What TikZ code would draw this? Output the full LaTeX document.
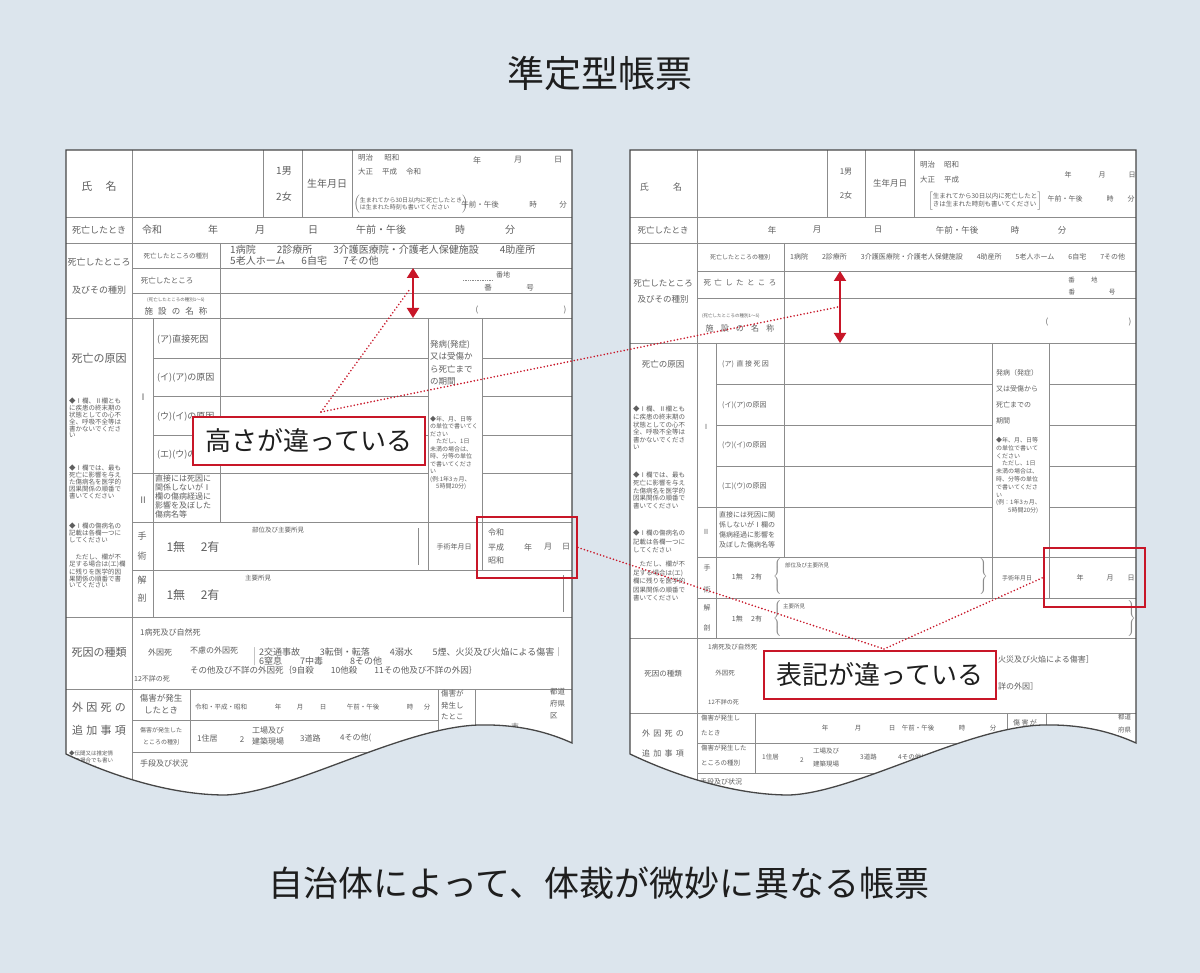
\documentclass[tikz,border=0pt]{standalone}
\usepackage{fontspec}
\setmainfont{Noto Sans CJK JP}
\usetikzlibrary{arrows.meta}

\definecolor{paper}{RGB}{220,229,237}
\definecolor{rule}{RGB}{140,140,140}
\definecolor{rim}{RGB}{70,70,70}
\definecolor{ink}{RGB}{95,95,95}
\definecolor{alert}{RGB}{200,22,40}
\definecolor{head}{RGB}{30,30,30}

\newcommand\fsize[2]{\fontsize{#1}{#2}\selectfont}
% outline of one sheet, torn at the bottom
\newcommand\sheetpath[1]{(#1,150) -- ({#1+506},150) -- ({#1+506},743)
  .. controls ({#1+484},733) and ({#1+454},724) .. ({#1+412},725)
  .. controls ({#1+334},728) and ({#1+224},793) .. ({#1+159},795)
  .. controls ({#1+104},795) and ({#1+44},775) .. (#1,754) -- cycle}

\begin{document}
\begin{tikzpicture}[x=1pt,y=-1pt,
    cell/.style={draw=rule,line width=0.7pt},
    rimline/.style={draw=rim,line width=1.3pt},
    txt/.style={text=ink,inner sep=0pt,font=\fsize{8}{9}},
    note/.style={text=ink,inner sep=0pt,align=left,anchor=north west,font=\fsize{6.5}{6.8}},
    lbl/.style={text=ink,inner sep=0pt,font=\fsize{11}{12}},
    bracemark/.style={text=rule,inner sep=0pt},
    markbox/.style={draw=alert,line width=1.8pt,inner sep=0pt},
    calloutbox/.style={draw=alert,line width=1.8pt,fill=white,text=head,
      font=\fsize{26}{28},minimum width=232pt,minimum height=48pt,inner sep=0pt},
    dotlink/.style={draw=alert,line width=1.8pt,line cap=round,dash pattern=on 0pt off 3.4pt},
    spanarrow/.style={draw=alert,line width=2pt,
      {Triangle[length=10pt,width=12pt]}-{Triangle[length=10pt,width=12pt]}}]

  \useasboundingbox (0,0) rectangle (1200,973);
  \fill[paper] (0,0) rectangle (1200,973);

  \node[font=\fsize{37}{40},text=head] (title) at (600,73) {準定型帳票};
  \node[font=\fsize{35}{38},text=head] (caption) at (599,883) {自治体によって、体裁が微妙に異なる帳票};

  % left sheet
  \begin{scope}
    \path[clip] \sheetpath{66};
    \fill[white] (66,150) rectangle (572,800);
    \foreach \y in {217,243,318,617,689} \draw[cell] (66,\y) -- (572,\y);
    \foreach \y in {268,293,522,570} \draw[cell] (132,\y) -- (572,\y);
    \draw[cell] (132,473) -- (428,473);
    \foreach \y in {358,396,435} \draw[cell] (153,\y) -- (428,\y);
    \foreach \y in {358,396,435,473} \draw[cell] (482,\y) -- (572,\y);
    \foreach \y in {720,752} \draw[cell] (132,\y) -- (438,\y);
    \foreach \x in {263,302,352} \draw[cell] (\x,150) -- (\x,217);
    \draw[cell] (132,150) -- (132,800);
    \draw[cell] (220,243) -- (220,522);
    \draw[cell] (153,318) -- (153,617);
    \draw[cell] (428,318) -- (428,570);
    \draw[cell] (482,318) -- (482,570);
    \draw[cell] (190,689) -- (190,752);
    \draw[cell] (438,689) -- (438,800);
    \draw[cell] (475,689) -- (475,800);
    \draw[cell] (418,528) -- (418,565);
    \draw[cell] (563,575) -- (563,612);
    \draw[cell,densely dotted] (463,280) -- (493,280);

    \node[lbl] (Lname) at (99,186) {氏\hspace{1.2em}名};
    \node[txt,font=\fsize{10}{11}] (Lmale) at (284,171) {1男};
    \node[txt,font=\fsize{10}{11}] (Lfemale) at (284,197) {2女};
    \node[txt,font=\fsize{10}{11}] (Lbirth) at (327,184) {生年月日};
    \node[txt,anchor=west,font=\fsize{7.5}{8}] (Lera1) at (358,158) {明治\hspace{1.5em}昭和};
    \node[txt,anchor=west,font=\fsize{7.5}{8}] (Lera2) at (358,172) {大正\hspace{1.2em}平成\hspace{1.2em}令和};
    \foreach \lab/\x [count=\i] in {年/477,月/518,日/558}
      \node[txt] (Lbd\i) at (\x,160) {\lab};
    \node[txt,font=\fsize{6}{6.5}] (Lbnote) at (411,204)
      {$\left(\begin{tabular}{@{}l@{}}生まれてから30日以内に死亡したとき\\は生まれた時刻も書いてください\end{tabular}\right)$};
    \node[txt,font=\fsize{7.5}{8}] (Lbam) at (480,205) {午前・午後};
    \node[txt,font=\fsize{7.5}{8}] (Lbh) at (533,205) {時};
    \node[txt,font=\fsize{7.5}{8}] (Lbm) at (563,205) {分};

    \node[txt,font=\fsize{9}{10}] (Ldied) at (99,230) {死亡したとき};
    \foreach \lab/\x [count=\i] in {令和/152,年/213,月/260,日/313,午前・午後/381,時/460,分/510}
      \node[txt,font=\fsize{10}{11}] (Ldt\i) at (\x,230) {\lab};

    \node[txt,font=\fsize{9}{10}] (Lplace1) at (99,262) {死亡したところ};
    \node[txt,font=\fsize{9}{10}] (Lplace2) at (99,290) {及びその種別};
    \node[txt,font=\fsize{6.5}{7}] (Lkind) at (176,256) {死亡したところの種別};
    \node[txt,font=\fsize{7.5}{8}] (Lplace) at (167,281) {死亡したところ};
    \node[txt,font=\fsize{4.5}{5}] (Lfac1) at (176,300) {(死亡したところの種別1〜5)};
    \node[txt,font=\fsize{8.5}{9}] (Lfac2) at (176,311) {施\hspace{0.6em}設\hspace{0.6em}の\hspace{0.6em}名\hspace{0.6em}称};
    \node[txt,anchor=west,align=left,font=\fsize{10}{11}] (Lkinds) at (230,255.5)
      {1病院\hspace{2.1em}2診療所\hspace{2.1em}3介護医療院・介護老人保健施設\hspace{2.1em}4助産所\\5老人ホーム\hspace{1.6em}6自宅\hspace{1.6em}7その他};
    \node[txt,font=\fsize{7}{8}] (Lban) at (503,275) {番地};
    \node[txt,font=\fsize{7.5}{8}] (Lgo) at (509,288) {番\hspace{4.6em}号};
    \node[txt] (Lpo) at (477,310) {(};
    \node[txt] (Lpc) at (565,310) {)};

    % cause of death
    \node[lbl] (Lcause) at (99,358) {死亡の原因};
    \node[note] (Ln1) at (69,398) {◆Ⅰ欄、Ⅱ欄とも\\に疾患の終末期の\\状態としての心不\\全、呼吸不全等は\\書かないでくださ\\い};
    \node[note] (Ln2) at (69,465) {◆Ⅰ欄では、最も\\死亡に影響を与え\\た傷病名を医学的\\因果関係の順番で\\書いてください};
    \node[note] (Ln3) at (69,523) {◆Ⅰ欄の傷病名の\\記載は各欄一つに\\してください};
    \node[note] (Ln4) at (69,554) {\hspace{1em}ただし、欄が不\\足する場合は(エ)欄\\に残りを医学的因\\果関係の順番で書\\いてください};
    \node[lbl,font=\fsize{9}{10}] (LI) at (143,397) {Ⅰ};
    \node[lbl,font=\fsize{9}{10}] (LII) at (143,500) {Ⅱ};
    \foreach \lab/\y [count=\i] in {{(ア)直接死因}/340,{(イ)(ア)の原因}/378,{(ウ)(イ)の原因}/417,{(エ)(ウ)の原因}/455}
      \node[txt,anchor=west,font=\fsize{9}{10}] (Lc\i) at (157,\y) {\lab};
    \node[txt,anchor=north west,align=left,font=\fsize{8}{8.8}] (Lc5) at (155,475)
      {直接には死因に\\関係しないがⅠ\\欄の傷病経過に\\影響を及ぼした\\傷病名等};
    \node[txt,anchor=north west,align=left,font=\fsize{8.5}{12.5}] (Lterm) at (430,340)
      {発病(発症)\\又は受傷か\\ら死亡まで\\の期間};
    \node[note,font=\fsize{6}{7.5}] (Lterm2) at (430,416)
      {◆年、月、日等\\の単位で書いてく\\ださい\\\hspace{1em}ただし、1日\\未満の場合は、\\時、分等の単位\\で書いてくださ\\い\\(例:1年3ヵ月、\\\hspace{1em}5時間20分)};

    \node[lbl,font=\fsize{9}{10}] (Lop1) at (142,536) {手};
    \node[lbl,font=\fsize{9}{10}] (Lop2) at (142,556) {術};
    \node[txt,font=\fsize{12}{13}] (Lop) at (193,547) {1無\hspace{1.3em}2有};
    \node[txt,font=\fsize{6.5}{7}] (Lopsite) at (278,530) {部位及び主要所見};
    \node[txt,font=\fsize{7}{8}] (Lopdate) at (454,547) {手術年月日};
    \node[txt,anchor=west,font=\fsize{8}{9}] (Lera3) at (488,532) {令和};
    \node[txt,anchor=west,font=\fsize{8}{9}] (Lera4) at (488,547) {平成};
    \node[txt,anchor=west,font=\fsize{8}{9}] (Lera5) at (488,560) {昭和};
    \foreach \lab/\x [count=\i] in {年/528,月/548,日/566}
      \node[txt] (Lod\i) at (\x,547) {\lab};
    \node[lbl,font=\fsize{9}{10}] (Lau1) at (142,580) {解};
    \node[lbl,font=\fsize{9}{10}] (Lau2) at (142,598) {剖};
    \node[txt,font=\fsize{12}{13}] (Lau) at (193,595) {1無\hspace{1.3em}2有};
    \node[txt,font=\fsize{6.5}{7}] (Lausite) at (258,578) {主要所見};

    % kind of death
    \node[lbl] (Lkindd) at (99,652) {死因の種類};
    \node[txt,anchor=west] (Lk1) at (140,632) {1病死及び自然死};
    \node[txt,anchor=west] (Lk2) at (148,652) {外因死};
    \node[txt,anchor=west] (Lk3) at (190,650) {不慮の外因死};
    \node[txt,anchor=west,align=left,font=\fsize{9}{9}] (Lk4) at (250,656.5)
      {｜2交通事故\hspace{2.2em}3転倒・転落\hspace{2.2em}4溺水\hspace{2.2em}5煙、火災及び火焔による傷害｜\\｜6窒息\hspace{2em}7中毒\hspace{3em}8その他};
    \node[txt,anchor=west,font=\fsize{8.5}{9}] (Lk5) at (190,670)
      {その他及び不詳の外因死｛9自殺\hspace{2em}10他殺\hspace{2em}11その他及び不詳の外因｝};
    \node[txt,anchor=west,font=\fsize{7}{8}] (Lk6) at (134,679) {12不詳の死};

    % external causes
    \node[lbl] (Lext1) at (99,707) {外\hspace{0.3em}因\hspace{0.3em}死\hspace{0.3em}の};
    \node[lbl] (Lext2) at (99,730) {追\hspace{0.3em}加\hspace{0.3em}事\hspace{0.3em}項};
    \node[note,font=\fsize{5.5}{7}] (Ln5) at (69,751) {◆伝聞又は推定情\\報の場合でも書い\\てください};
    \node[txt,align=center,font=\fsize{8.5}{12}] (Le1) at (161,704) {傷害が発生\\したとき};
    \node[txt,align=center,font=\fsize{6}{12}] (Le2) at (161,736) {傷害が発生した\\ところの種別};
    \node[txt,anchor=west,font=\fsize{6.5}{7}] (Le3) at (195,707) {令和・平成・昭和};
    \foreach \lab/\x [count=\i] in {年/278,月/300,日/323,午前・午後/363,時/410,分/427}
      \node[txt,font=\fsize{6.5}{7}] (Let\i) at (\x,707) {\lab};
    \node[txt,anchor=north west,align=left,font=\fsize{7.5}{11.5}] (Le4) at (441,690) {傷害が\\発生し\\たとこ};
    \node[txt,anchor=north west,align=left,font=\fsize{7.5}{12}] (Le5) at (550,688) {都道\\府県\\区};
    \node[txt,font=\fsize{7.5}{8}] (Le6) at (515,727) {市};
    \node[txt,anchor=west] (Le7) at (197,738) {1住居};
    \node[txt] (Le8) at (242,740) {2};
    \node[txt,align=center,font=\fsize{8}{11}] (Le9) at (268,736) {工場及び\\建築現場};
    \node[txt,anchor=west] (Le10) at (300,738) {3道路};
    \node[txt,anchor=west] (Le11) at (340,738) {4その他(};
    \node[txt,anchor=west] (Le12) at (140,763) {手段及び状況};
  \end{scope}
  \draw[rimline] \sheetpath{66};

  % right sheet
  \begin{scope}
    \path[clip] \sheetpath{630};
    \fill[white] (630,150) rectangle (1136,800);
    \foreach \y in {217,243,343,638,713} \draw[cell] (630,\y) -- (1136,\y);
    \foreach \y in {271,298,557,598} \draw[cell] (697,\y) -- (1136,\y);
    \draw[cell] (697,507) -- (992,507);
    \foreach \y in {384,425,466} \draw[cell] (716,\y) -- (992,\y);
    \foreach \y in {384,425,466,507} \draw[cell] (1049,\y) -- (1136,\y);
    \foreach \y in {743,773} \draw[cell] (697,\y) -- (1007,\y);
    \foreach \x in {827,865,914} \draw[cell] (\x,150) -- (\x,217);
    \draw[cell] (697,150) -- (697,800);
    \draw[cell] (784,243) -- (784,557);
    \draw[cell] (716,343) -- (716,638);
    \draw[cell] (992,343) -- (992,598);
    \draw[cell] (1049,343) -- (1049,598);
    \draw[cell] (755,713) -- (755,773);
    \draw[cell] (1007,713) -- (1007,800);
    \draw[cell] (1046,713) -- (1046,800);

    \node[txt,font=\fsize{9}{10}] (Rname) at (661,187) {氏\hspace{2.7em}名};
    \node[txt] (Rmale) at (846,172) {1男};
    \node[txt] (Rfemale) at (846,195) {2女};
    \node[txt,font=\fsize{8.5}{9}] (Rbirth) at (890,183) {生年月日};
    \node[txt,anchor=west,font=\fsize{7.5}{8}] (Rera1) at (920,165) {明治\hspace{1.2em}昭和};
    \node[txt,anchor=west,font=\fsize{7.5}{8}] (Rera2) at (920,180) {大正\hspace{1.2em}平成};
    \foreach \lab/\x [count=\i] in {年/1068,月/1102,日/1132}
      \node[txt,font=\fsize{7}{8}] (Rbd\i) at (\x,175) {\lab};
    \node[txt,font=\fsize{6.5}{7.5}] (Rbnote) at (985,201)
      {$\left[\begin{tabular}{@{}l@{}}生まれてから30日以内に死亡したと\\きは生まれた時刻も書いてください\end{tabular}\right]$};
    \node[txt,font=\fsize{7}{8}] (Rbam) at (1065,199) {午前・午後};
    \node[txt,font=\fsize{7}{8}] (Rbh) at (1110,199) {時};
    \node[txt,font=\fsize{7}{8}] (Rbm) at (1131,199) {分};

    \node[txt,font=\fsize{8.5}{9}] (Rdied) at (663,230) {死亡したとき};
    \foreach \lab/\x [count=\i] in {年/772,月/817,日/878,午前・午後/957,時/1015,分/1062}
      \node[txt,font=\fsize{8.5}{9}] (Rdt\i) at (\x,230) {\lab};

    \node[txt,font=\fsize{8.5}{9}] (Rplace1) at (663,283) {死亡したところ};
    \node[txt,font=\fsize{8.5}{9}] (Rplace2) at (663,299) {及びその種別};
    \node[txt,font=\fsize{6}{7}] (Rkind) at (740,257) {死亡したところの種別};
    \node[txt,font=\fsize{7.5}{8}] (Rplace) at (740,283) {死\hspace{0.45em}亡\hspace{0.45em}し\hspace{0.45em}た\hspace{0.45em}と\hspace{0.45em}こ\hspace{0.45em}ろ};
    \node[txt,anchor=west,font=\fsize{4.5}{5}] (Rfac1) at (702,316) {(死亡したところの種別1〜5)};
    \node[txt] (Rfac2) at (740,328) {施\hspace{0.9em}設\hspace{0.9em}の\hspace{0.9em}名\hspace{0.9em}称};
    \node[txt,anchor=west,font=\fsize{7}{8}] (Rkinds) at (790,257)
      {1病院\hspace{2em}2診療所\hspace{2em}3介護医療院・介護老人保健施設\hspace{2em}4助産所\hspace{2em}5老人ホーム\hspace{2em}6自宅\hspace{2em}7その他};
    \node[txt,font=\fsize{6.5}{7}] (Rban) at (1083,280) {番\hspace{2.5em}地};
    \node[txt,font=\fsize{6.5}{7}] (Rgo) at (1092,292) {番\hspace{5.2em}号};
    \node[txt] (Rpo) at (1047,322) {(};
    \node[txt] (Rpc) at (1130,322) {)};

    % cause of death
    \node[txt,font=\fsize{8.5}{9}] (Rcause) at (663,364) {死亡の原因};
    \node[note,font=\fsize{6.5}{7.6}] (Rn1) at (633,406) {◆Ⅰ欄、Ⅱ欄とも\\に疾患の終末期の\\状態としての心不\\全、呼吸不全等は\\書かないでくださ\\い};
    \node[note,font=\fsize{6.5}{7.6}] (Rn2) at (633,472) {◆Ⅰ欄では、最も\\死亡に影響を与え\\た傷病名を医学的\\因果関係の順番で\\書いてください};
    \node[note,font=\fsize{6.5}{8.5}] (Rn3) at (633,530) {◆Ⅰ欄の傷病名の\\記載は各欄一つに\\してください};
    \node[note,font=\fsize{6.5}{8.5}] (Rn4) at (633,561) {\hspace{1em}ただし、欄が不\\足する場合は(エ)\\欄に残りを医学的\\因果関係の順番で\\書いてください};
    \node[txt,font=\fsize{7}{8}] (RI) at (706,427) {Ⅰ};
    \node[txt,font=\fsize{7}{8}] (RII) at (706,532) {Ⅱ};
    \foreach \lab/\y [count=\i] in {{(ア)\hspace{0.4em}直\hspace{0.2em}接\hspace{0.2em}死\hspace{0.2em}因}/364,{(イ)(ア)の原因}/405,{(ウ)(イ)の原因}/445,{(エ)(ウ)の原因}/486}
      \node[txt,anchor=west,font=\fsize{7}{8}] (Rc\i) at (722,\y) {\lab};
    \node[txt,anchor=north west,align=left,font=\fsize{7}{10}] (Rc5) at (719,511)
      {直接には死因に関\\係しないがⅠ欄の\\傷病経過に影響を\\及ぼした傷病名等};
    \node[txt,anchor=north west,align=left,font=\fsize{7}{16}] (Rterm) at (996,369)
      {発病（発症）\\又は受傷から\\死亡までの\\期間};
    \node[note,font=\fsize{6}{7.8}] (Rterm2) at (996,437)
      {◆年、月、日等\\の単位で書いて\\ください\\\hspace{1em}ただし、1日\\未満の場合は、\\時、分等の単位\\で書いてくださ\\い\\(例：1年3ヵ月、\\\hspace{2em}5時間20分)};

    \node[txt,font=\fsize{7}{8}] (Rop1) at (707,568) {手};
    \node[txt,font=\fsize{7}{8}] (Rop2) at (707,590) {術};
    \node[txt,font=\fsize{7}{8}] (Rop) at (747,577) {1無\hspace{1.2em}2有};
    \node[bracemark] (Rbr1) at (778,577) {$\left\{\vrule height 16pt depth 16pt width 0pt\right.$};
    \node[txt,anchor=west,font=\fsize{5.5}{6}] (Ropsite) at (785,565) {部位及び主要所見};
    \node[bracemark] (Rbr2) at (983,577) {$\left.\vrule height 16pt depth 16pt width 0pt\right\}$};
    \node[txt,font=\fsize{6}{7}] (Ropdate) at (1017,578) {手術年月日};
    \foreach \lab/\x [count=\i] in {年/1080,月/1110,日/1131}
      \node[txt,font=\fsize{7}{8}] (Rod\i) at (\x,578) {\lab};
    \node[txt,font=\fsize{7}{8}] (Rau1) at (707,608) {解};
    \node[txt,font=\fsize{7}{8}] (Rau2) at (707,628) {剖};
    \node[txt,font=\fsize{7}{8}] (Rau) at (747,619) {1無\hspace{1.2em}2有};
    \node[bracemark] (Rbr3) at (778,618) {$\left\{\vrule height 15pt depth 15pt width 0pt\right.$};
    \node[txt,anchor=west,font=\fsize{5.5}{6}] (Rausite) at (783,606) {主要所見};
    \node[bracemark] (Rbr4) at (1131,618) {$\left.\vrule height 15pt depth 15pt width 0pt\right\}$};

    % kind of death
    \node[txt,font=\fsize{7.5}{8}] (Rkindd) at (663,674) {死因の種類};
    \node[txt,anchor=west,font=\fsize{6.5}{7}] (Rk1) at (708,647) {1病死及び自然死};
    \node[txt,font=\fsize{6.5}{7}] (Rk2) at (725,673) {外因死};
    \node[txt,anchor=west] (Rk3) at (998,659) {火災及び火焔による傷害］};
    \node[txt,anchor=west] (Rk4) at (998,686) {詳の外因］};
    \node[txt,anchor=west,font=\fsize{6}{7}] (Rk5) at (708,702) {12不詳の死};

    % external causes
    \node[txt] (Rext1) at (663,733) {外\hspace{0.4em}因\hspace{0.4em}死\hspace{0.4em}の};
    \node[txt] (Rext2) at (663,753) {追\hspace{0.4em}加\hspace{0.4em}事\hspace{0.4em}項};
    \node[txt,anchor=north west,align=left,font=\fsize{6.5}{14.5}] (Re1) at (701,715) {傷害が発生し\\たとき};
    \node[txt,anchor=north west,align=left,font=\fsize{6.5}{14.5}] (Re2) at (701,745) {傷害が発生した\\ところの種別};
    \foreach \lab/\x [count=\i] in {年/825,月/858,日/892,午前・午後/918,時/962,分/993}
      \node[txt,font=\fsize{6.5}{7}] (Ret\i) at (\x,728) {\lab};
    \node[txt,font=\fsize{7}{8}] (Re3) at (1025,723) {傷\hspace{0.2em}害\hspace{0.2em}が};
    \node[txt,anchor=north west,align=left,font=\fsize{6.5}{13}] (Re4) at (1118,714) {都道\\府県};
    \node[txt,anchor=west,font=\fsize{6.5}{7}] (Re5) at (762,757) {1住居};
    \node[txt,font=\fsize{6.5}{7}] (Re6) at (802,760) {2};
    \node[txt,align=center,font=\fsize{6.5}{13}] (Re7) at (826,758) {工場及び\\建築現場};
    \node[txt,anchor=west,font=\fsize{6.5}{7}] (Re8) at (860,757) {3道路};
    \node[txt,anchor=west,font=\fsize{6.5}{7}] (Re9) at (898,757) {4その他(};
    \node[txt,anchor=west,font=\fsize{7}{8}] (Re10) at (700,782) {手段及び状況};
  \end{scope}
  \draw[rimline] \sheetpath{630};

  % remarks
  \node[markbox,minimum width=100pt,minimum height=61pt] (dateL) at (527,547.5) {};
  \node[markbox,minimum width=101pt,minimum height=59pt] (dateR) at (1094.5,577.5) {};
  \coordinate (hL1) at (413,268);
  \coordinate (hL2) at (413,318);
  \coordinate (hR1) at (840,271);
  \coordinate (hR2) at (840,343);
  \coordinate (tipH) at (321,412);
  \coordinate (aimL) at (410,289);
  \coordinate (aimR) at (838,307);
  \coordinate (tipN) at (884,649);
  \draw[dotlink] (tipH) -- (aimL);
  \draw[dotlink] (tipH) -- (aimR);
  \draw[dotlink] (dateL.east) -- (tipN);
  \draw[dotlink] (tipN) -- (dateR.west);
  \draw[spanarrow] (hL1) -- (hL2);
  \draw[spanarrow] (hR1) -- (hR2);
  \node[calloutbox] (diffH) at (309,441) {高さが違っている};
  \node[calloutbox] (diffN) at (880,675) {表記が違っている};
\end{tikzpicture}
\end{document}
